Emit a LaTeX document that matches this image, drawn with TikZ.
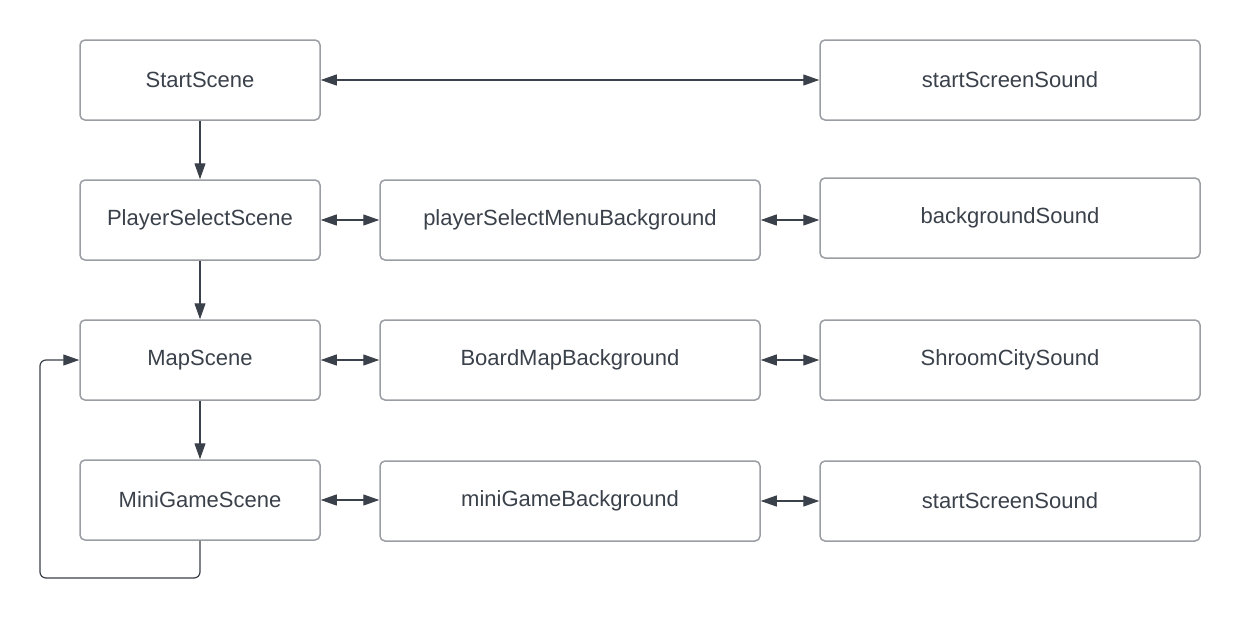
\documentclass[tikz,border=0pt]{standalone}
\usepackage{fontspec}
\setmainfont{Liberation Sans}
\usetikzlibrary{arrows.meta}
\definecolor{boxline}{HTML}{9A9DA2}
\definecolor{ink}{HTML}{3A414A}

\begin{document}
\begin{tikzpicture}
[x=0.5pt,y=-0.5pt,%
  every node/.style={shape=rectangle,rounded corners=2.5pt,draw=boxline,line width=0.75pt,text=ink},%
  scene/.style={minimum width=120pt,minimum height=40pt},%
  asset/.style={minimum width=190pt,minimum height=40pt},%
  flow/.style={draw=ink,line width=0.6pt,-{Triangle[length=8pt,width=5.5pt]}},%
  both/.style={flow,{Triangle[length=8pt,width=5.5pt]}-{Triangle[length=8pt,width=5.5pt]}}]
\fontsize{11}{13}\selectfont
\useasboundingbox (0,0) rectangle (1241,621);
% scenes
\node[scene] (start) at (200,80) {StartScene};
\node[scene] (select) at (200,220) {PlayerSelectScene};
\node[scene] (map) at (200,360) {MapScene};
\node[scene] (mini) at (200,500) {MiniGameScene};
% backgrounds
\node[asset] (selectbg) at (570,220) {playerSelectMenuBackground};
\node[asset] (mapbg) at (570,360) {BoardMapBackground};
\node[asset] (minibg) at (570,501) {miniGameBackground};
% sounds
\node[asset] (startsnd) at (1010,80) {startScreenSound};
\node[asset] (selectsnd) at (1010,218) {backgroundSound};
\node[asset] (mapsnd) at (1010,360) {ShroomCitySound};
\node[asset] (minisnd) at (1010,501) {startScreenSound};
\coordinate (back) at (40,578);
% arrows
\draw[flow] (start) -- (select);
\draw[flow] (select) -- (map);
\draw[flow] (map) -- (mini);
\draw[flow,rounded corners=3pt] (mini.south) |- (back) |- (map.west);
\draw[both] (start) -- (startsnd);
\draw[both] (select) -- (selectbg);
\draw[both] (map) -- (mapbg);
\draw[both] (mini) -- (mini -| minibg.west);
\draw[both] (selectbg) -- (selectbg -| selectsnd.west);
\draw[both] (mapbg) -- (mapsnd);
\draw[both] (minibg) -- (minisnd);
\end{tikzpicture}
\end{document}
